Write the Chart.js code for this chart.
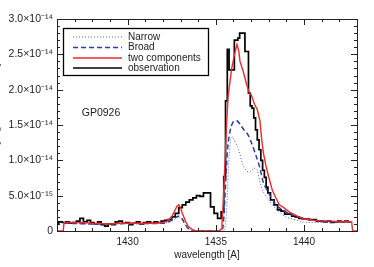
<!DOCTYPE html>
<html>
<head>
<meta charset="utf-8">
<script src="https://cdn.jsdelivr.net/npm/chart.js@4.4.1/dist/chart.umd.min.js"></script>
<style>
html, body { margin: 0; padding: 0; background: #fff; }
canvas { display: block; }
</style>
</head>
<body>
<canvas id="specChart" width="374" height="267"></canvas>
<script>
// flux values are in units of 1e-15
var obsWave = [1426.0, 1426.2, 1426.4, 1426.6, 1426.8, 1427.0, 1427.2, 1427.4, 1427.6, 1427.8,
    1428.0, 1428.2, 1428.4, 1428.6, 1428.8, 1429.0, 1429.2, 1429.4, 1429.6, 1429.8,
    1430.0, 1430.2, 1430.4, 1430.6, 1430.8, 1431.0, 1431.2, 1431.4, 1431.6, 1431.8,
    1432.0, 1432.2, 1432.4, 1432.6, 1432.8, 1433.0, 1433.2, 1433.4, 1433.6, 1433.8,
    1434.0, 1434.2, 1434.4, 1434.6, 1434.8, 1435.0, 1435.2, 1435.4, 1435.5, 1435.6,
    1435.7, 1435.8, 1435.9, 1436.0, 1436.1, 1436.2, 1436.3, 1436.4, 1436.5, 1436.6,
    1436.7, 1436.8, 1436.9, 1437.0, 1437.1, 1437.2, 1437.3, 1437.4, 1437.5, 1437.6,
    1437.7, 1437.8, 1437.9, 1438.0, 1438.2, 1438.4, 1438.6, 1438.8, 1439.0, 1439.2,
    1439.4, 1439.6, 1439.8, 1440.0, 1440.2, 1440.4, 1440.6, 1440.8, 1441.0, 1441.2,
    1441.4, 1441.6, 1441.8, 1442.0, 1442.2, 1442.4, 1442.6];
var obsFlux = [1.0, 1.3, 1.2, 1.3, 1.1, 1.2, 1.4, 1.8, 1.3, 1.5,
    1.2, 1.0, 1.3, 0.9, 0.7, 1.0, 0.9, 1.3, 1.4, 1.1,
    1.2, 0.9, 1.1, 1.3, 1.0, 1.2, 1.3, 1.1, 1.3, 1.2,
    1.4, 1.5, 1.6, 2.0, 2.5, 3.3, 3.7, 4.1, 4.4, 4.7,
    5.0, 4.9, 5.4, 5.4, 3.4, 2.5, 1.8, 2.7, 7.7, 18.4,
    25.7, 22.8, 22.8, 22.8, 27.0, 27.0, 27.3, 28.0, 28.0, 28.0,
    25.4, 25.4, 19.5, 17.7, 17.4, 16.0, 14.3, 12.9, 11.5, 10.0,
    8.6, 7.6, 6.2, 5.4, 4.4, 3.7, 3.0, 2.8, 2.4, 2.4,
    2.1, 2.0, 1.8, 1.7, 1.7, 1.6, 1.6, 1.4, 1.4, 1.3,
    1.4, 1.2, 1.3, 1.4, 1.3, 1.4, 1.3];

var fitWave = [1426.0, 1426.35, 1426.4, 1427.0, 1427.5, 1428.0, 1428.5, 1429.0, 1429.5, 1430.0,
    1430.5, 1431.0, 1431.5, 1432.0, 1432.25, 1432.5, 1432.7, 1432.8, 1432.9, 1433.0,
    1433.1, 1433.3, 1433.45, 1433.7, 1433.9, 1434.0, 1435.2, 1435.3, 1435.35, 1435.42,
    1435.5, 1435.6, 1435.7, 1435.9, 1436.05, 1436.2, 1436.3, 1436.37, 1436.55, 1436.75,
    1436.9, 1437.0, 1437.2, 1437.35, 1437.5, 1437.6, 1437.7, 1437.85, 1438.0, 1438.2,
    1438.4, 1438.6, 1438.85, 1439.15, 1439.7, 1440.0, 1440.3, 1441.0, 1441.5, 1442.0,
    1442.4, 1442.7, 1442.75, 1443.0];
var fitFlux = [0, 0, 1.2, 1.2, 1.2, 1.1, 1.05, 1.0, 1.1, 1.1,
    1.1, 1.1, 1.1, 1.2, 1.4, 2.0, 3.0, 3.5, 3.7, 3.3,
    2.5, 1.3, 0.6, 0.15, 0.02, 0, 0, 0.3, 1.1, 4.0,
    8.6, 14.6, 19.2, 23.0, 24.9, 26.4, 25.5, 24.0, 22.6, 20.7,
    19.5, 19.3, 17.9, 17.2, 15.6, 12.9, 11.0, 9.1, 7.6, 5.8,
    4.7, 3.7, 3.3, 2.7, 2.0, 1.7, 1.6, 1.4, 1.4, 1.3,
    1.35, 1.3, 0, 0];

var broadWave = [1426.4, 1428.0, 1430.0, 1432.0, 1432.4, 1432.7, 1432.9, 1433.1, 1433.3, 1433.5,
    1433.7, 1435.3, 1435.4, 1435.5, 1435.6, 1435.7, 1435.85, 1436.0, 1436.2, 1436.4,
    1436.6, 1436.8, 1437.0, 1437.3, 1437.5, 1437.7, 1438.0, 1438.3, 1438.6, 1439.1,
    1439.7, 1440.3, 1441.0, 1442.0, 1442.7];
var broadFlux = [1.1, 1.0, 1.05, 1.1, 1.4, 1.9, 2.1, 1.7, 0.8, 0.2,
    0, 0, 0.5, 4.0, 9.0, 12.5, 14.6, 15.5, 15.6, 15.0,
    14.3, 13.7, 12.6, 10.5, 8.9, 6.8, 5.4, 4.1, 3.3, 2.5,
    2.0, 1.6, 1.4, 1.3, 1.3];

var narrowWave = [1426.4, 1428.0, 1430.0, 1432.0, 1432.5, 1432.8, 1432.9, 1433.1, 1433.3, 1433.5,
    1433.7, 1435.4, 1435.55, 1435.65, 1435.75, 1435.85, 1435.95, 1436.05, 1436.3, 1436.5,
    1436.7, 1436.9, 1437.05, 1437.15, 1437.35, 1437.5, 1437.7, 1438.0, 1438.3, 1438.6,
    1438.95, 1439.5, 1439.85, 1440.5, 1441.5, 1442.7];
var narrowFlux = [1.1, 1.0, 1.05, 1.1, 1.4, 1.9, 2.0, 1.5, 0.7, 0.2,
    0, 0, 1.0, 5.0, 10.5, 13.0, 13.3, 12.8, 11.5, 9.6,
    8.6, 8.3, 8.6, 8.9, 8.6, 6.9, 5.5, 4.4, 3.4, 2.7,
    2.0, 1.6, 1.3, 1.2, 1.2, 1.2];

var xTickValues = [1430, 1435, 1440];
var yTickValues = [0, 5e-15, 1e-14, 1.5e-14, 2e-14, 2.5e-14, 3e-14];
var yTickLabels = ['0', '5.0\u00d710\u207b\u00b9\u2075', '1.0\u00d710\u207b\u00b9\u2074', '1.5\u00d710\u207b\u00b9\u2074',
    '2.0\u00d710\u207b\u00b9\u2074', '2.5\u00d710\u207b\u00b9\u2074', '3.0\u00d710\u207b\u00b9\u2074'];
var legendLabels = ['Narrow', 'Broad', 'two components', 'observation'];

var fluxUnit = 1e-15;
function toPoints(wave, flux) {
    return wave.map(function(w, i) { return { x: w, y: flux[i] * fluxUnit }; });
}

var FONT = 'Liberation Sans, Arial, sans-serif';
var BLUE = '#2c3f9e';
var NARROW_BLUE = '#4a5fc6';
var RED = '#ee2a2a';

// IDL style frame, inward ticks, legend box and labels
var idlBox = {
    id: 'idlBox',
    afterDraw: function(chart) {
        var c = chart.ctx, a = chart.chartArea;
        var xs = chart.scales.x, ys = chart.scales.y;
        c.save();
        c.strokeStyle = '#222';
        c.lineWidth = 1;
        c.strokeRect(Math.round(a.left) + 0.5, Math.round(a.top) + 0.5,
            Math.round(a.right - a.left), Math.round(a.bottom - a.top));
        c.beginPath();
        for (var v = 0; v <= 30; v++) {
            var y = Math.round(ys.getPixelForValue(v * fluxUnit)) + 0.5;
            var len = v % 5 === 0 ? 6 : 3;
            c.moveTo(a.left, y); c.lineTo(a.left + len, y);
            c.moveTo(a.right, y); c.lineTo(a.right - len, y);
        }
        for (var w = 1427; w <= 1442; w++) {
            var x = Math.round(xs.getPixelForValue(w)) + 0.5;
            var l2 = w % 5 === 0 ? 6 : 3;
            c.moveTo(x, a.bottom); c.lineTo(x, a.bottom - l2);
            c.moveTo(x, a.top); c.lineTo(x, a.top + l2);
        }
        c.stroke();

        // legend
        c.lineWidth = 1.3;
        c.strokeStyle = '#000';
        c.fillStyle = '#fff';
        c.fillRect(63.5, 28.5, 145, 47);
        c.strokeRect(63.5, 28.5, 145, 47);
        var styles = [
            { color: NARROW_BLUE, width: 1, dash: [1, 2] },
            { color: BLUE, width: 1.5, dash: [5, 3] },
            { color: RED, width: 1.4, dash: [] },
            { color: '#000', width: 1.7, dash: [] }
        ];
        var rows = [37, 47.5, 58, 68];
        c.font = '10px ' + FONT;
        c.textBaseline = 'middle';
        legendLabels.forEach(function(txt, i) {
            c.beginPath();
            c.strokeStyle = styles[i].color;
            c.lineWidth = styles[i].width;
            c.setLineDash(styles[i].dash);
            c.moveTo(73, rows[i]); c.lineTo(122, rows[i]);
            c.stroke();
            c.setLineDash([]);
            c.fillStyle = '#222';
            c.fillText(txt, 128, rows[i]);
        });

        c.font = '10.5px ' + FONT;
        c.textAlign = 'center';
        c.fillText('GP0926', 101, 113);

        // y title, cut off by the left edge as in the figure
        c.translate(0, 116);
        c.rotate(-Math.PI / 2);
        c.font = '11px ' + FONT;
        c.fillStyle = '#666';
        c.fillText('Flux [erg cm\u207b\u00b2 s\u207b\u00b9 \u00c5\u207b\u00b9]', 0, -4);
        c.restore();
    }
};

var ctx = document.getElementById('specChart').getContext('2d');
var specChart = new Chart(ctx, {
    type: 'line',
    data: {
        datasets: [{
            label: 'two components',
            data: toPoints(fitWave, fitFlux),
            borderColor: RED,
            borderWidth: 1.4,
            pointRadius: 0,
            tension: 0
        }, {
            label: 'Broad',
            data: toPoints(broadWave, broadFlux),
            borderColor: BLUE,
            borderWidth: 1.5,
            borderDash: [5, 3],
            pointRadius: 0,
            tension: 0.3
        }, {
            label: 'Narrow',
            data: toPoints(narrowWave, narrowFlux),
            borderColor: NARROW_BLUE,
            borderWidth: 1,
            borderDash: [1, 2],
            pointRadius: 0,
            tension: 0.3
        }, {
            label: 'observation',
            data: toPoints(obsWave, obsFlux),
            borderColor: '#000',
            borderWidth: 1.7,
            stepped: 'middle',
            pointRadius: 0
        }]
    },
    options: {
        responsive: false,
        animation: false,
        devicePixelRatio: 1,
        layout: { padding: { top: 19, right: 17, left: 0, bottom: 0 } },
        plugins: { legend: { display: false }, tooltip: { enabled: false } },
        scales: {
            x: {
                type: 'linear',
                min: 1426,
                max: 1443,
                grid: { display: false, drawTicks: false },
                border: { display: false },
                afterBuildTicks: function(s) { s.ticks = xTickValues.map(function(v) { return { value: v }; }); },
                afterFit: function(s) { s.height = 36; },
                ticks: {
                    font: { family: FONT, size: 10 },
                    color: '#222',
                    padding: 5,
                    maxRotation: 0,
                    callback: function(v) { return String(v); }
                },
                title: {
                    display: true,
                    text: 'wavelength [A]',
                    font: { family: FONT, size: 10 },
                    color: '#222',
                    padding: { top: 0, bottom: 6 }
                }
            },
            y: {
                min: 0,
                max: 3e-14,
                grid: { display: false, drawTicks: false },
                border: { display: false },
                afterBuildTicks: function(s) { s.ticks = yTickValues.map(function(v) { return { value: v }; }); },
                afterFit: function(s) { s.width = 57; },
                ticks: {
                    font: { family: FONT, size: 10.5 },
                    color: '#222',
                    padding: 4,
                    callback: function(v, i) { return yTickLabels[i]; }
                }
            }
        }
    },
    plugins: [idlBox]
});
</script>
</body>
</html>
